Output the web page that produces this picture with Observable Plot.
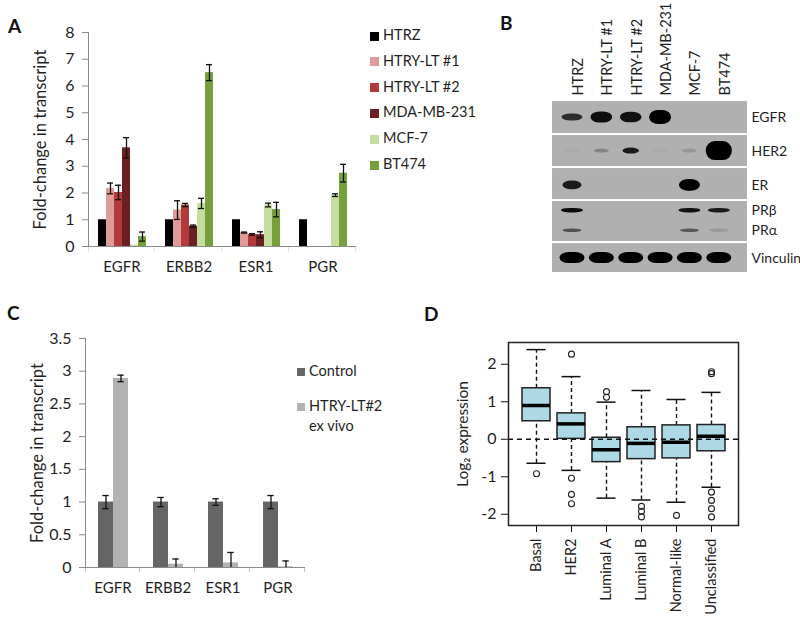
<!DOCTYPE html>
<html><head><meta charset="utf-8">
<script src="https://cdn.jsdelivr.net/npm/d3@7"></script>
<script src="https://cdn.jsdelivr.net/npm/@observablehq/plot@0.6"></script>
<style>
body{margin:0;background:#fff;font-family:Lato,sans-serif}
#fig{position:relative;width:800px;height:628px;overflow:hidden;background:#fff}
.letter{position:absolute;font:bold 19px Lato;color:#111;line-height:1}
.leg{position:absolute;font:14.5px Lato;color:#1f1f1f;white-space:nowrap;line-height:1}
.sw{position:absolute;width:9px;height:9px}
#fig svg text{fill:#1f1f1f}
</style></head><body><div id="fig"></div><script>
// ---------- Panel A data ----------
const genes = ["EGFR", "ERBB2", "ESR1", "PGR"];
const cellLines = ["HTRZ", "HTRY-LT #1", "HTRY-LT #2", "MDA-MB-231", "MCF-7", "BT474"];
const lineColors = ["#000000", "#e19a9a", "#b23a3a", "#6b1f22", "#c6dda0", "#77a03b"];
const htrzFold  = [1, 1, 1, 1];
const htrzErr   = [0, 0, 0, 0];
const ltr1Fold  = [2.17, 1.36, 0.52, 0];
const ltr1Err   = [0.2, 0.35, 0.02, 0];
const ltr2Fold  = [2.02, 1.55, 0.45, 0];
const ltr2Err   = [0.27, 0.06, 0.03, 0];
const mdaFold   = [3.69, 0.76, 0.44, 0];
const mdaErr    = [0.38, 0.04, 0.11, 0];
const mcf7Fold  = [0.05, 1.61, 1.55, 1.92];
const mcf7Err   = [0, 0.19, 0.07, 0.05];
const bt474Fold = [0.37, 6.5, 1.38, 2.74];
const bt474Err  = [0.17, 0.3, 0.27, 0.33];
const yTicksA = [0, 1, 2, 3, 4, 5, 6, 7, 8];

// ---------- Panel B data (western blot signal, 0..1) ----------
const lanes = ["HTRZ", "HTRY-LT #1", "HTRY-LT #2", "MDA-MB-231", "MCF-7", "BT474"];
const blotRows = ["EGFR", "HER2", "ER", "PR", "Vinculin"];
const egfrSignal     = [0.75, 0.92, 0.9, 1, 0, 0];
const her2Signal     = [0.03, 0.25, 0.85, 0.03, 0.15, 1];
const erSignal       = [0.85, 0, 0, 0, 1, 0];
const prBetaSignal   = [0.95, 0, 0, 0, 0.9, 0.85];
const prAlphaSignal  = [0.55, 0, 0, 0, 0.5, 0.12];
const vinculinSignal = [1, 1, 1, 1, 1, 1];

// ---------- Panel C data ----------
const genesC = ["EGFR", "ERBB2", "ESR1", "PGR"];
const groupsC = ["Control", "HTRY-LT#2 ex vivo"];
const groupColors = ["#656565", "#b2b2b2"];
const controlFold = [1, 1, 1, 1];
const controlErr  = [0.1, 0.07, 0.05, 0.1];
const exVivoFold  = [2.89, 0.05, 0.07, 0.01];
const exVivoErr   = [0.05, 0.08, 0.16, 0.09];
const yTicksC = [0, 0.5, 1, 1.5, 2, 2.5, 3, 3.5];

// ---------- Panel D data (box plot statistics) ----------
const subtypes = ["Basal", "HER2", "Luminal A", "Luminal B", "Normal-like", "Unclassified"];
const whiskerLow  = [-0.64, -0.83, -1.57, -1.62, -1.68, -1.28];
const lowerQuart  = [0.48, 0.01, -0.61, -0.53, -0.51, -0.32];
const medians     = [0.9, 0.41, -0.28, -0.11, -0.08, 0.08];
const upperQuart  = [1.36, 0.69, 0.04, 0.32, 0.37, 0.38];
const whiskerHigh = [2.39, 1.67, 0.99, 1.3, 1.06, 1.25];
const outlierGroup = ["Basal", "HER2", "HER2", "HER2", "HER2", "Luminal A", "Luminal A",
  "Luminal B", "Luminal B", "Luminal B", "Normal-like",
  "Unclassified", "Unclassified", "Unclassified", "Unclassified", "Unclassified", "Unclassified"];
const outlierValue = [-0.92, 2.27, -1.04, -1.47, -1.72, 1.27, 1.12,
  -1.79, -1.92, -2.07, -2.03,
  1.75, 1.8, -1.41, -1.63, -1.85, -2.07];
const yTicksD = [-2, -1, 0, 1, 2];

// ---------- helpers ----------
const fig = document.getElementById("fig");
function place(node, left, top) {
  node.style.position = "absolute";
  node.style.left = left + "px";
  node.style.top = top + "px";
  fig.appendChild(node);
  return node;
}
function div(cls, text, left, top, extra) {
  const d = document.createElement("div");
  d.className = cls;
  if (text != null) d.textContent = text;
  if (extra) Object.assign(d.style, extra);
  return place(d, left, top);
}
function sizeText(svg, matcher, size) {
  svg.querySelectorAll("text").forEach((t) => {
    if (matcher(t.textContent)) t.style.fontSize = size;
  });
}
const fmt = (d) => String(d);

// ================= Panel A =================
const seriesA = [[htrzFold, htrzErr], [ltr1Fold, ltr1Err], [ltr2Fold, ltr2Err],
  [mdaFold, mdaErr], [mcf7Fold, mcf7Err], [bt474Fold, bt474Err]];
const rowsA = genes.flatMap((gene, gi) => cellLines.map((line, li) => ({
  gene, line, value: seriesA[li][0][gi], err: seriesA[li][1][gi]
})));
const errA = rowsA.filter((d) => d.err > 0);
const wA = 370, mLA = 86, mRA = 13;
const facetWA = (wA - mLA - mRA) / genes.length;
const chartA = Plot.plot({
  width: wA, height: 290, marginLeft: mLA, marginRight: mRA, marginTop: 32, marginBottom: 44,
  style: {fontFamily: "Lato", fontSize: "15px", color: "#8a8a8a", background: "transparent", overflow: "visible"},
  fx: {domain: genes, padding: 0, axis: "bottom", label: null, tickSize: 0, tickPadding: 15},
  x: {domain: cellLines, axis: null, paddingInner: 0, paddingOuter: 0.76},
  y: {domain: [0, 8], ticks: yTicksA, tickFormat: fmt, tickSize: 6, tickPadding: 8, line: true,
      label: "Fold-change in transcript", labelAnchor: "center", labelArrow: false, labelOffset: 54},
  color: {domain: cellLines, range: lineColors},
  marks: [
    Plot.barY(rowsA.filter((d) => d.value > 0), {fx: "gene", x: "line", y: "value", fill: "line"}),
    Plot.ruleX(errA, {fx: "gene", x: "line", y1: (d) => d.value - d.err, y2: (d) => d.value + d.err, stroke: "#111", strokeWidth: 1.3}),
    Plot.tickY(errA, {fx: "gene", x: "line", y: (d) => d.value + d.err, stroke: "#111", strokeWidth: 1.3, insetLeft: 1, insetRight: 1}),
    Plot.tickY(errA, {fx: "gene", x: "line", y: (d) => d.value - d.err, stroke: "#111", strokeWidth: 1.3, insetLeft: 1, insetRight: 1}),
    Plot.ruleY([0], {stroke: "#8a8a8a"}),
    Plot.rect(genes, {fx: (d) => d, y1: 0, y2: -0.2, fill: "#8a8a8a", insetLeft: facetWA - 1}),
    Plot.rect(genes.slice(0, 1), {fx: (d) => d, y1: 0, y2: -0.2, fill: "#8a8a8a", insetRight: facetWA - 1})
  ]
});
sizeText(chartA, (s) => s === "Fold-change in transcript", "16.5px");
sizeText(chartA, (s) => /^\d+$/.test(s), "16px");
place(chartA, 0, 0);
cellLines.forEach((name, i) => {
  const y = 36 + 25.8 * i;
  div("sw", null, 370, y - 4.5, {background: lineColors[i]});
  div("leg", name, 383, y - 8);
});

// ================= Panel B (blot) =================
const LANE_PX = 29.37, ROW_PX = 34.82;
const rowSpan = [0.98, 0.95, 0.95, 1.21, 0.89];
const rowEdge = rowSpan.reduce((a, s) => (a.push(a[a.length - 1] + s), a), [0]);
const bandLayout = [
  {name: "EGFR", sig: egfrSignal, row: 0, pos: 0.5, w: (s) => 18 + 4 * s, h: (s) => 4 + 10 * s ** 4},
  {name: "HER2", sig: her2Signal, row: 1, pos: 0.5, w: (s) => 15 + 11 * s ** 12, h: (s) => 4 + 15 * s ** 12},
  {name: "ER", sig: erSignal, row: 2, pos: 0.54, w: (s) => 17 + 4 * s ** 4, h: (s) => 5 + 7 * s ** 4},
  {name: "PRβ", sig: prBetaSignal, row: 3, pos: 0.24, w: () => 22, h: () => 4.5},
  {name: "PRα", sig: prAlphaSignal, row: 3, pos: 0.72, w: () => 19, h: () => 3.5},
  {name: "Vinculin", sig: vinculinSignal, row: 4, pos: 0.5, w: () => 25, h: () => 11}
];
const bands = bandLayout.flatMap((b) => b.sig.map((s, i) => {
  const cy = rowEdge[b.row] + b.pos * rowSpan[b.row];
  const hw = b.w(s) / LANE_PX / 2, hh = b.h(s) / ROW_PX / 2;
  return {lane: i, signal: s, x1: i - hw, x2: i + hw, y1: cy - hh, y2: cy + hh};
})).filter((d) => d.signal > 0);
const rowLabels = bandLayout.map((b) => ({text: b.name, y: rowEdge[b.row] + b.pos * rowSpan[b.row]}));
const chartB = Plot.plot({
  width: 300, height: 290, marginLeft: 52, marginRight: 53, marginTop: 100, marginBottom: 17,
  style: {fontFamily: "Lato", fontSize: "14px", background: "transparent", overflow: "visible"},
  x: {domain: [-0.68, 5.96], axis: null},
  y: {domain: [0, rowEdge[rowEdge.length - 1]], reverse: true, axis: null},
  marks: [
    Plot.rect(blotRows, {y1: (d, i) => rowEdge[i], y2: (d, i) => rowEdge[i + 1], fill: "#b0b0b0", insetTop: 1, insetBottom: 1}),
    Plot.rect(bands, {x1: "x1", x2: "x2", y1: "y1", y2: "y2", fill: "#000", fillOpacity: "signal", rx: 9, ariaLabel: "band"}),
    Plot.text(rowLabels, {y: "y", text: "text", frameAnchor: "right", textAnchor: "start", dx: 4}),
    Plot.text(lanes, {x: (d, i) => i, text: (d) => d, frameAnchor: "top", rotate: -90, textAnchor: "start", dy: -5, fontSize: 14.5})
  ]
});
{
  const ns = "http://www.w3.org/2000/svg";
  const defs = document.createElementNS(ns, "defs");
  defs.innerHTML = '<filter id="blotBlur" x="-50%" y="-50%" width="200%" height="200%"><feGaussianBlur stdDeviation="1.5"/></filter>';
  chartB.insertBefore(defs, chartB.firstChild);
  chartB.querySelectorAll('g[aria-label="band"]').forEach((g) => g.setAttribute("filter", "url(#blotBlur)"));
}
place(chartB, 500, 0);

// ================= Panel C =================
const seriesC = [[controlFold, controlErr], [exVivoFold, exVivoErr]];
const rowsC = genesC.flatMap((gene, gi) => groupsC.map((grp, k) => ({
  gene, grp, value: seriesC[k][0][gi], err: seriesC[k][1][gi]
})));
const wC = 320, mLC = 84, mRC = 14;
const facetWC = (wC - mLC - mRC) / genesC.length;
const chartC = Plot.plot({
  width: wC, height: 290, marginLeft: mLC, marginRight: mRC, marginTop: 18, marginBottom: 43,
  style: {fontFamily: "Lato", fontSize: "15px", color: "#8a8a8a", background: "transparent", overflow: "visible"},
  fx: {domain: genesC, padding: 0, axis: "bottom", label: null, tickSize: 0, tickPadding: 15},
  x: {domain: groupsC, axis: null, paddingInner: 0, paddingOuter: 0.78},
  y: {domain: [0, 3.5], ticks: yTicksC, tickFormat: fmt, tickSize: 6, tickPadding: 8, line: true,
      label: "Fold-change in transcript", labelAnchor: "center", labelArrow: false, labelOffset: 54},
  color: {domain: groupsC, range: groupColors},
  marks: [
    Plot.barY(rowsC, {fx: "gene", x: "grp", y: "value", fill: "grp"}),
    Plot.ruleX(rowsC, {fx: "gene", x: "grp", y1: (d) => Math.max(0, d.value - d.err), y2: (d) => d.value + d.err, stroke: "#111", strokeWidth: 1.3}),
    Plot.tickY(rowsC, {fx: "gene", x: "grp", y: (d) => d.value + d.err, stroke: "#111", strokeWidth: 1.3, insetLeft: 4.3, insetRight: 4.3}),
    Plot.tickY(rowsC.filter((d) => d.value - d.err > 0), {fx: "gene", x: "grp", y: (d) => d.value - d.err, stroke: "#111", strokeWidth: 1.3, insetLeft: 4.3, insetRight: 4.3}),
    Plot.ruleY([0], {stroke: "#8a8a8a"}),
    Plot.rect(genesC, {fx: (d) => d, y1: 0, y2: -0.08, fill: "#8a8a8a", insetLeft: facetWC - 1}),
    Plot.rect(genesC.slice(0, 1), {fx: (d) => d, y1: 0, y2: -0.08, fill: "#8a8a8a", insetRight: facetWC - 1})
  ]
});
sizeText(chartC, (s) => s === "Fold-change in transcript", "16.5px");
sizeText(chartC, (s) => /^[\d.]+$/.test(s), "16px");
place(chartC, 0, 320);
div("sw", null, 297, 367.5, {background: groupColors[0], width: "8px", height: "8px"});
div("leg", "Control", 309, 364);
div("sw", null, 297, 402.5, {background: groupColors[1], width: "8px", height: "8px"});
div("leg", "HTRY-LT#2", 309, 399);
div("leg", "ex vivo", 309, 419);

// ================= Panel D =================
const stats = subtypes.map((s, i) => ({
  subtype: s, lo: whiskerLow[i], q1: lowerQuart[i], med: medians[i], q3: upperQuart[i], hi: whiskerHigh[i]
}));
const outliers = outlierGroup.map((g, i) => ({subtype: g, value: outlierValue[i]}));
const chartD = Plot.plot({
  width: 380, height: 308, marginLeft: 88, marginRight: 62, marginTop: 22, marginBottom: 103,
  style: {fontFamily: "Lato", fontSize: "14.5px", color: "#111", background: "transparent", overflow: "visible"},
  x: {domain: subtypes, paddingInner: 0.2, paddingOuter: 0.34, tickRotate: -90, tickSize: 7, tickPadding: 6, label: null},
  y: {domain: [-2.3, 2.58], ticks: yTicksD, tickFormat: fmt, tickSize: 7, tickPadding: 5,
      label: "Log₂ expression", labelAnchor: "center", labelArrow: false, labelOffset: 52},
  marks: [
    Plot.ruleX(stats, {x: "subtype", y1: "lo", y2: "q1", stroke: "#111", strokeWidth: 1.4, strokeDasharray: "4,3"}),
    Plot.ruleX(stats, {x: "subtype", y1: "q3", y2: "hi", stroke: "#111", strokeWidth: 1.4, strokeDasharray: "4,3"}),
    Plot.tickY(stats, {x: "subtype", y: "lo", stroke: "#111", strokeWidth: 1.5, insetLeft: 4.5, insetRight: 4.5}),
    Plot.tickY(stats, {x: "subtype", y: "hi", stroke: "#111", strokeWidth: 1.5, insetLeft: 4.5, insetRight: 4.5}),
    Plot.barY(stats, {x: "subtype", y1: "q1", y2: "q3", fill: "#add8e6", stroke: "#222", strokeWidth: 1.5}),
    Plot.ruleY([0], {stroke: "#111", strokeWidth: 1.5, strokeDasharray: "5,4"}),
    Plot.tickY(stats, {x: "subtype", y: "med", stroke: "#000", strokeWidth: 3.5}),
    Plot.dot(outliers, {x: "subtype", y: "value", r: 3, stroke: "#222", strokeWidth: 1.1, fill: "none"}),
    Plot.frame({stroke: "#222", strokeWidth: 1.5})
  ]
});
sizeText(chartD, (s) => /^-?\d$/.test(s), "16px");
sizeText(chartD, (s) => s === "Log₂ expression", "15.5px");
place(chartD, 420, 320);

// ---------- panel letters ----------
div("letter", "A", 8, 16);
div("letter", "B", 500, 13);
div("letter", "C", 7, 303);
div("letter", "D", 424, 304);
</script></body></html>
